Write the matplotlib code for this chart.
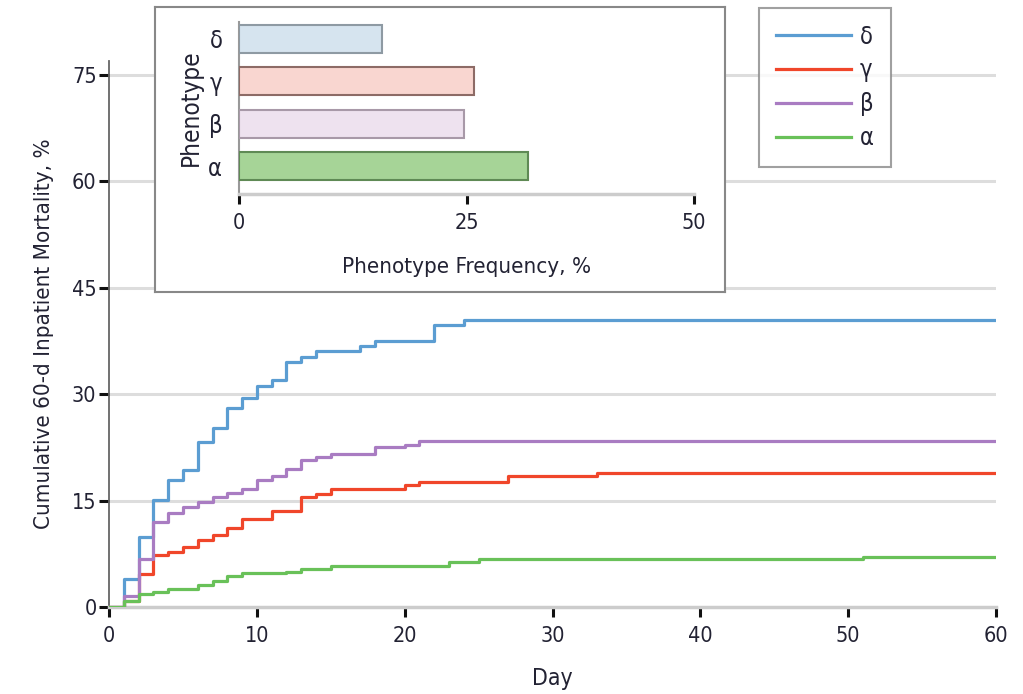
import numpy as np
import matplotlib
matplotlib.use("Agg")
import matplotlib.pyplot as plt

plt.rcParams['font.family'] = ['DejaVu Sans']
plt.rcParams['font.stretch'] = 'condensed'

# cumulative mortality steps
days_delta = [0, 1, 2, 3, 4, 5, 6, 7, 8, 9, 10, 11, 12, 13, 14, 17, 18, 22, 24, 60]
mort_delta = [0, 3.9, 9.9, 15.1, 17.9, 19.3, 23.3, 25.3, 28.0, 29.4, 31.2, 32.0, 34.6, 35.3, 36.1, 36.8, 37.5, 39.8, 40.4, 40.4]

days_gamma = [0, 1, 2, 3, 4, 5, 6, 7, 8, 9, 11, 13, 14, 15, 20, 21, 27, 33, 60]
mort_gamma = [0, 0.9, 4.7, 7.3, 7.7, 8.5, 9.4, 10.2, 11.1, 12.4, 13.5, 15.5, 15.9, 16.6, 17.2, 17.6, 18.5, 18.9, 18.9]

days_beta = [0, 1, 2, 3, 4, 5, 6, 7, 8, 9, 10, 11, 12, 13, 14, 15, 18, 20, 21, 60]
mort_beta = [0, 1.5, 6.8, 12.0, 13.3, 14.1, 14.8, 15.5, 16.1, 16.7, 17.9, 18.5, 19.4, 20.7, 21.2, 21.6, 22.5, 22.9, 23.4, 23.4]

days_alpha = [0, 1, 2, 3, 4, 6, 7, 8, 9, 12, 13, 15, 23, 25, 51, 60]
mort_alpha = [0, 0.85, 1.8, 2.1, 2.6, 3.1, 3.6, 4.3, 4.75, 5.0, 5.3, 5.8, 6.3, 6.8, 7.1, 7.1]

# inset: phenotype frequency
phenotypes = ['α', 'β', 'γ', 'δ']
freq = [31.8, 24.7, 25.8, 15.7]

line_colors = {'δ': '#5b9dd2', 'γ': '#f0462a', 'β': '#a97cc2', 'α': '#69c159'}
bar_fill = {'δ': '#d6e4ef', 'γ': '#f9d6d0', 'β': '#eee2ef', 'α': '#a6d497'}
bar_edge = {'δ': '#8e9aa3', 'γ': '#8d6b66', 'β': '#a899a8', 'α': '#5f8a55'}

txt = '#222233'
grid_c = '#dddddd'

fig = plt.figure(figsize=(10.23, 6.94), dpi=100)
ax = fig.add_axes([0.1066, 0.1254, 0.867, 0.787])

series = [('δ', days_delta, mort_delta), ('γ', days_gamma, mort_gamma),
          ('β', days_beta, mort_beta), ('α', days_alpha, mort_alpha)]
for name, d, m in series:
    ax.step(d, m, where='post', color=line_colors[name], lw=2.3, label=name, zorder=3)

ax.set_xlim(0, 60)
ax.set_ylim(0, 77)
ax.set_xticks(np.arange(0, 61, 10))
ax.set_yticks(np.arange(0, 76, 15))
for y in range(15, 76, 15):
    ax.axhline(y, color=grid_c, lw=2.2, zorder=1)
for s in ['top', 'right']:
    ax.spines[s].set_visible(False)
ax.spines['left'].set_color('#666666')
ax.spines['left'].set_linewidth(1.3)
ax.spines['bottom'].set_color('#cccccc')
ax.spines['bottom'].set_linewidth(2.5)
ax.tick_params(axis='both', colors='#111111', labelcolor=txt, labelsize=15.5,
               width=2.2, length=7, direction='out')
ax.tick_params(axis='y', pad=2)
ax.tick_params(axis='x', pad=7)
ax.set_xlabel('Day', fontsize=16.5, color=txt, labelpad=15)
ax.set_ylabel('Cumulative 60-d Inpatient Mortality, %', fontsize=16, color=txt, labelpad=13)

leg = ax.legend(loc='upper left', bbox_to_anchor=(759 / 1023, 1 - 8 / 694),
                bbox_transform=fig.transFigure, frameon=True, fancybox=False,
                fontsize=17, handlelength=3.2, labelspacing=0.42, borderpad=0.7,
                handletextpad=0.38, borderaxespad=0)
leg.get_frame().set_edgecolor('#888888')
leg.get_frame().set_linewidth(1.5)
for t in leg.get_texts():
    t.set_color(txt)

# inset frame
frame = fig.add_axes([155 / 1023, 1 - 292 / 694, 570 / 1023, 285 / 694])
frame.set_xticks([])
frame.set_yticks([])
frame.set_facecolor('white')
for s in frame.spines.values():
    s.set_color('#888888')
    s.set_linewidth(1.5)
frame.set_zorder(5)

ins = fig.add_axes([239 / 1023, 1 - 194 / 694, 455 / 1023, 172 / 694])
ins.set_zorder(6)
ins.patch.set_alpha(0)
ypos = np.arange(len(phenotypes))
ins.barh(ypos, freq, height=0.66,
         color=[bar_fill[p] for p in phenotypes],
         edgecolor=[bar_edge[p] for p in phenotypes], linewidth=1.5, zorder=3)
ins.set_xlim(0, 50)
ins.set_ylim(-0.66, 3.4)
ins.set_xticks([0, 25, 50])
ins.set_yticks(ypos)
ins.set_yticklabels(phenotypes)
for s in ['top', 'right']:
    ins.spines[s].set_visible(False)
ins.spines['left'].set_color('#999999')
ins.spines['left'].set_linewidth(1.5)
ins.spines['bottom'].set_color('#cccccc')
ins.spines['bottom'].set_linewidth(2.5)
ins.tick_params(axis='x', colors='#111111', labelcolor=txt, labelsize=15.5,
                width=2.2, length=7, pad=7)
ins.tick_params(axis='y', length=0, labelcolor=txt, labelsize=17, pad=12)
ins.set_xlabel('Phenotype Frequency, %', fontsize=16, color=txt, labelpad=17)
ins.set_ylabel('Phenotype', fontsize=17.5, color=txt, labelpad=4)

fig.savefig('out.png', dpi=100)
